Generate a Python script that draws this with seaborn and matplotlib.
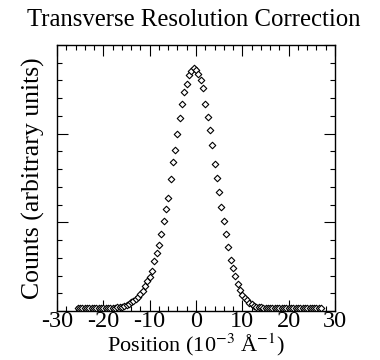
import matplotlib
matplotlib.use("Agg")
import matplotlib.pyplot as plt
import seaborn as sns
import pandas as pd
from matplotlib.ticker import MultipleLocator, NullFormatter

# ---- data ----
title = "Transverse Resolution Correction"
xlabel = "Position (10$^{-3}$ Å$^{-1}$)"
ylabel = "Counts (arbitrary units)"
xticks = [-30, -20, -10, 0, 10, 20, 30]

position = [
    -25.5, -25.0, -24.5, -24.0, -23.5, -23.0, -22.5, -22.0, -21.5, -21.0,
    -20.5, -20.0, -19.5, -19.0, -18.5, -18.0, -17.5, -17.0, -16.5, -16.0,
    -15.5, -15.0, -14.5, -14.0, -13.5, -13.0, -12.5, -12.0, -11.5, -11.0,
    -10.5, -10.0, -9.5, -9.0, -8.5, -8.0, -7.5, -7.0, -6.5, -6.0,
    -5.5, -5.0, -4.5, -4.0, -3.5, -3.0, -2.5, -2.0, -1.5, -1.0,
    -0.5, 0.0, 0.5, 1.0, 1.5, 2.0, 2.5, 3.0, 3.5, 4.0,
    4.5, 5.0, 5.5, 6.0, 6.5, 7.0, 7.5, 8.0, 8.5, 9.0,
    9.5, 10.0, 10.5, 11.0, 11.5, 12.0, 12.5, 13.0, 13.5, 14.0,
    14.5, 15.0, 15.5, 16.0, 16.5, 17.0, 17.5, 18.0, 18.5, 19.0,
    19.5, 20.0, 20.5, 21.0, 21.5, 22.0, 22.5, 23.0, 23.5, 24.0,
    24.5, 25.0, 25.5, 26.0, 26.5, 27.0,
]
counts = [
    0.030, 0.030, 0.030, 0.031, 0.031, 0.031, 0.032, 0.032, 0.032, 0.033,
    0.033, 0.034, 0.034, 0.035, 0.036, 0.037, 0.038, 0.040, 0.045, 0.050,
    0.060, 0.070, 0.085, 0.100, 0.115, 0.135, 0.160, 0.190, 0.230, 0.280,
    0.340, 0.380, 0.455, 0.560, 0.650, 0.750, 0.865, 1.010, 1.150, 1.280,
    1.490, 1.680, 1.820, 2.000, 2.180, 2.330, 2.470, 2.560, 2.660, 2.710,
    2.740, 2.720, 2.670, 2.600, 2.510, 2.340, 2.190, 2.040, 1.870, 1.660,
    1.500, 1.340, 1.170, 1.020, 0.870, 0.720, 0.580, 0.490, 0.400, 0.310,
    0.240, 0.180, 0.145, 0.120, 0.095, 0.075, 0.060, 0.050, 0.043, 0.040,
    0.038, 0.037, 0.036, 0.035, 0.035, 0.034, 0.034, 0.034, 0.033, 0.033,
    0.033, 0.033, 0.032, 0.032, 0.032, 0.032, 0.031, 0.031, 0.031, 0.031,
    0.031, 0.030, 0.030, 0.030, 0.030, 0.030,
]

df = pd.DataFrame({"position": position, "counts": counts})

sns.set_theme(style="ticks")
plt.rcParams["font.family"] = ["Liberation Serif", "DejaVu Serif"]
plt.rcParams["mathtext.fontset"] = "stix"
plt.rcParams["axes.unicode_minus"] = False
plt.rcParams["text.color"] = "black"
plt.rcParams["axes.labelcolor"] = "black"

fig = plt.figure(figsize=(3.8, 3.6), dpi=100)
ax = fig.add_axes([0.15, 0.136, 0.7316, 0.739])

sns.scatterplot(data=df, x="position", y="counts", ax=ax, marker="D",
                s=11, facecolor="white", edgecolor="black", linewidth=0.8,
                legend=False, zorder=3)

ax.set_xlim(-30, 30)
ax.set_ylim(0, 3)
ax.xaxis.set_major_locator(MultipleLocator(10))
ax.xaxis.set_minor_locator(MultipleLocator(2))
ax.yaxis.set_major_locator(MultipleLocator(1))
ax.yaxis.set_minor_locator(MultipleLocator(0.2))
ax.set_xticks(xticks)
ax.set_xticklabels([str(t) for t in xticks])
ax.yaxis.set_major_formatter(NullFormatter())

ax.tick_params(which="both", direction="in", top=True, right=True,
               colors="black", labelcolor="black", width=0.8)
ax.tick_params(which="major", length=8, labelsize=17.5, pad=0)
ax.tick_params(which="minor", length=3.5)
for sp in ax.spines.values():
    sp.set_linewidth(1.0)
    sp.set_color("black")

ax.set_xlabel(xlabel, fontsize=16, labelpad=-0.5, color="black")
ax.set_ylabel(ylabel, fontsize=18.5, labelpad=5, color="black")
fig.text(0.51, 0.915, title, ha="center", va="bottom", fontsize=17.8,
         color="black")

fig.savefig("out.png", dpi=100)
